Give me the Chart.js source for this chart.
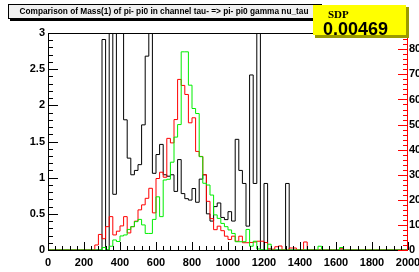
<!DOCTYPE html>
<html>
<head>
<meta charset="utf-8">
<script src="https://cdn.jsdelivr.net/npm/chart.js@4.4.1/dist/chart.umd.min.js"></script>
<style>
  html, body { margin: 0; padding: 0; background: #fff; }
  #wrap { width: 419px; height: 272px; position: relative; }
</style>
</head>
<body>
<div id="wrap"><canvas id="myChart" width="419" height="272"></canvas></div>
<script>
// 100 bins of 20 MeV, 0..2000
const binWidth = 20;
const blackCounts = [
  0, 0, 0, 0, 0, 0, 0, 0, 0, 0,
  0, 0, 0, 0, 0, 2.91, 0, 3.5, 0.77, 3.5,
  3.5, 1.80, 1.27, 1.04, 1.1, 1.18, 1.73, 2.68, 3.5, 1.06,
  1.32, 1.46, 1.04, 1.02, 1.04, 0.81, 1.25, 0.78, 0.71, 0.69,
  0.85, 0.66, 0.98, 1.04, 0.5, 0.4, 0.6, 0.65, 0.45, 0.42,
  0.53, 0.4, 1.53, 1.1, 0.92, 0.33, 2.42, 0.92, 3.5, 0,
  0.92, 0, 0, 0, 0, 0, 0.92, 0, 0, 0,
  0, 0, 0, 0, 0, 0, 0, 0, 0, 0,
  0, 0, 0, 0, 0, 0, 0, 0, 0, 0,
  0, 0, 0, 0, 0, 0, 0, 0, 0, 0
];
const redCounts = [
  0, 0, 0, 0, 0, 0, 0, 0, 0, 0,
  0, 0, 0, 2, 6.2, 4.5, 9.3, 13.3, 6, 7.5,
  9.6, 13.3, 6.8, 9.3, 11.5, 16, 18, 20.6, 24.6, 14.8,
  28.5, 31, 29, 44.5, 42.7, 52, 68, 65.6, 62, 50.7,
  52.7, 39.3, 37.3, 30, 19.4, 12.5, 8.1, 9.5, 7.7, 5.5,
  4.2, 5.5, 3.5, 5.5, 2.9, 2.9, 3, 3.2, 3.5, 3.5,
  3, 0.5, 0.3, 1.3, 1.6, 0, 0, 0.8, 0.8, 0,
  0, 3.2, 0, 0, 0, 0, 0, 0, 0, 0,
  0, 0.5, 0, 0, 0, 0, 0, 0, 0, 0,
  0, 0, 0, 0, 0, 0, 0, 0, 0, 0
];
const greenCounts = [
  0, 0, 0, 0, 0, 0, 0, 0, 0, 0,
  0, 0, 0, 0, 0, 1, 0, 1.5, 4, 3.4,
  5.6, 6, 8.2, 9.3, 11.3, 12.2, 10, 6.6, 6.6, 12.2,
  21.2, 13.3, 27.9, 28.2, 35, 45, 50, 79, 79, 65.7,
  56.4, 54.4, 37.2, 26.6, 25.9, 21.9, 14, 12.6, 10.6, 9.3,
  8, 6.6, 3.3, 3.3, 3.3, 8.2, 1.5, 3.5, 0.4, 0,
  0, 2.3, 0, 0, 0, 0, 0, 0, 0, 0,
  0, 0, 0, 0, 0, 1.5, 0, 0, 0, 0,
  0, 1, 0, 0, 0, 0, 0, 0, 0, 0,
  0, 0, 0, 0, 0, 0, 0, 0, 0, 0
];
const xTicks = [0, 200, 400, 600, 800, 1000, 1200, 1400, 1600, 1800, 2000];
const leftTicks = [0, 0.5, 1, 1.5, 2, 2.5, 3];
const rightTicks = [0, 10, 20, 30, 40, 50, 60, 70, 80];
const titleText = 'Comparison of Mass(1) of pi- pi0 in channel tau- => pi- pi0 gamma nu_tau';
const statName = 'SDP';
const statValue = '0.00469';

function histPoints(counts) {
  const pts = counts.map((v, i) => ({ x: i * binWidth, y: v }));
  pts.push({ x: counts.length * binWidth, y: 0 });
  return pts;
}

const tickFont = { family: '"Liberation Sans", Arial, sans-serif', size: 11, weight: 'bold' };
const plain = v => String(v);

// ROOT style: ticks inside the frame, frame, title and stat box
const rootDecor = {
  id: 'rootDecor',
  afterDatasetsDraw(chart) {
    const ctx = chart.ctx;
    const a = chart.chartArea;
    const sx = chart.scales.x, sy = chart.scales.y, sy2 = chart.scales.y2;
    ctx.save();
    ctx.lineWidth = 1;
    // frame
    ctx.strokeStyle = '#000';
    ctx.beginPath();
    ctx.moveTo(a.left + 0.5, a.top + 0.5);
    ctx.lineTo(a.right, a.top + 0.5);
    ctx.moveTo(a.left + 0.5, a.top);
    ctx.lineTo(a.left + 0.5, a.bottom + 0.5);
    ctx.lineTo(a.right, a.bottom + 0.5);
    // x ticks
    for (let v = 0; v <= 2000; v += 40) {
      const px = Math.round(sx.getPixelForValue(v)) + 0.5;
      const len = v % 200 === 0 ? 8 : 4;
      ctx.moveTo(px, a.bottom);
      ctx.lineTo(px, a.bottom - len);
    }
    // left y ticks
    for (let i = 0; i <= 30; i++) {
      const py = Math.round(sy.getPixelForValue(i / 10)) + 0.5;
      const len = i % 5 === 0 ? 10 : 5;
      ctx.moveTo(a.left, py);
      ctx.lineTo(a.left + len, py);
    }
    ctx.stroke();
    // right axis in red
    ctx.strokeStyle = '#ff0000';
    ctx.beginPath();
    ctx.moveTo(a.right - 0.5, a.top);
    ctx.lineTo(a.right - 0.5, a.bottom + 0.5);
    for (let v = 0; v <= 86; v += 2) {
      const py = Math.round(sy2.getPixelForValue(v)) + 0.5;
      const len = v % 10 === 0 ? 10 : 5;
      ctx.moveTo(a.right, py);
      ctx.lineTo(a.right - len, py);
    }
    ctx.stroke();

    // title box
    ctx.fillStyle = '#000';
    ctx.fillRect(10, 6, 314, 15);
    ctx.fillStyle = '#f0f0f0';
    ctx.fillRect(8, 4, 314, 15);
    ctx.strokeStyle = '#000';
    ctx.strokeRect(8.5, 4.5, 313, 14);
    ctx.fillStyle = '#000';
    ctx.font = 'bold 10px "Liberation Sans", Arial, sans-serif';
    const w10 = ctx.measureText(titleText).width;
    const fs = 10 * 289 / w10;
    ctx.font = 'bold ' + fs.toFixed(2) + 'px "Liberation Sans", Arial, sans-serif';
    ctx.textAlign = 'center';
    ctx.textBaseline = 'middle';
    ctx.fillText(titleText, 164, 12);

    // stat box
    ctx.fillStyle = '#9a9a00';
    ctx.fillRect(315, 7, 94, 31);
    ctx.fillStyle = '#ffff00';
    ctx.fillRect(313, 5, 93, 30);
    ctx.fillStyle = '#000';
    ctx.textAlign = 'left';
    ctx.textBaseline = 'alphabetic';
    ctx.font = 'bold 11px "Liberation Serif", "Times New Roman", serif';
    ctx.fillText(statName, 328, 18);
    ctx.font = 'bold 18px "Liberation Sans", Arial, sans-serif';
    ctx.fillText(statValue, 323, 35);
    ctx.restore();
  }
};

const ctx = document.getElementById('myChart');
new Chart(ctx, {
  type: 'line',
  data: {
    datasets: [
      {
        label: 'green',
        data: histPoints(greenCounts),
        yAxisID: 'y2',
        borderColor: '#00ee00',
        borderWidth: 1,
        stepped: 'before',
        pointRadius: 0,
        fill: false
      },
      {
        label: 'red',
        data: histPoints(redCounts),
        yAxisID: 'y2',
        borderColor: '#ff0000',
        borderWidth: 1,
        stepped: 'before',
        pointRadius: 0,
        fill: false
      },
      {
        label: 'black',
        data: histPoints(blackCounts),
        yAxisID: 'y',
        borderColor: '#000000',
        borderWidth: 1,
        stepped: 'before',
        pointRadius: 0,
        fill: false
      }
    ]
  },
  options: {
    responsive: false,
    animation: false,
    layout: { padding: { top: 33, left: 0, right: 0, bottom: 0 } },
    plugins: { legend: { display: false }, tooltip: { enabled: false }, title: { display: false } },
    scales: {
      x: {
        type: 'linear',
        min: 0,
        max: 2000,
        afterBuildTicks: s => { s.ticks = xTicks.map(v => ({ value: v })); },
        ticks: { font: tickFont, color: '#000', padding: 6, maxRotation: 0, autoSkip: false, callback: plain },
        grid: { display: false, drawTicks: false },
        border: { display: false },
        afterFit: s => { s.height = 22; s.paddingLeft = 0; s.paddingRight = 0; }
      },
      y: {
        position: 'left',
        min: 0,
        max: 3,
        afterBuildTicks: s => { s.ticks = leftTicks.map(v => ({ value: v })); },
        ticks: { font: tickFont, color: '#000', padding: 3, callback: plain },
        grid: { display: false, drawTicks: false },
        border: { display: false },
        afterFit: s => { s.width = 48; s.paddingTop = 0; s.paddingBottom = 0; }
      },
      y2: {
        position: 'right',
        min: 0,
        max: 86.5,
        afterBuildTicks: s => { s.ticks = rightTicks.map(v => ({ value: v })); },
        ticks: { font: tickFont, color: '#000', padding: 1, callback: plain },
        grid: { display: false, drawTicks: false },
        border: { display: false },
        afterFit: s => { s.width = 11; s.paddingTop = 0; s.paddingBottom = 0; }
      }
    }
  },
  plugins: [rootDecor]
});
</script>
</body>
</html>
